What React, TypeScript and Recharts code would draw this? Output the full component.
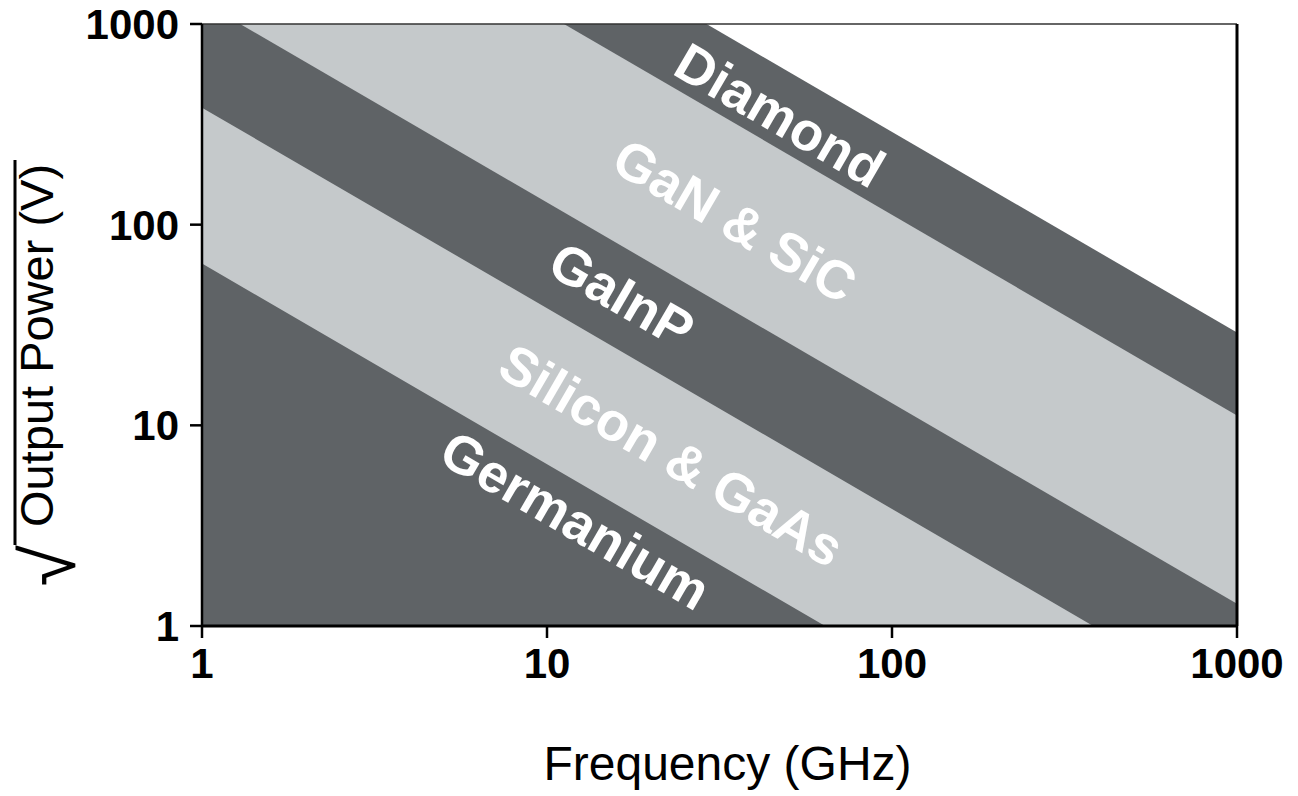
import React from 'react';
import { ComposedChart, Area, XAxis, YAxis, ReferenceLine, ReferenceDot } from 'recharts';

// Frequency (GHz) at the two ends of each band boundary
const frequencies = [1, 1000];
// Upper boundary of each band (sqrt output power, V) at those frequencies
const diamondTop = [29000, 29];
const ganSicTop = [11200, 11.2];
const gainpTop = [1290, 1.29];
const siliconGaasTop = [383, 0.383];
const germaniumTop = [64, 0.064];

const xTicks = [1, 10, 100, 1000];
const yTicks = [1, 10, 100, 1000];

const bandKeys = ['diamond', 'ganSic', 'gainp', 'siliconGaas', 'germanium'];
const bandNames = ['Diamond', 'GaN & SiC', 'GaInP', 'Silicon & GaAs', 'Germanium'];
const bandLabelFreq = [47.4, 35.1, 16.5, 23.0, 12.1];
const bandLabelPower = [352, 105, 44.6, 7.1, 3.37];

const DARK = '#5f6366';
const LIGHT = '#c5c9cb';
const bandColors = [DARK, LIGHT, DARK, LIGHT, DARK];

const FONT = '"Liberation Sans", Arial, Helvetica, sans-serif';

const data = frequencies.map((f, i) => ({
  f,
  diamond: diamondTop[i],
  ganSic: ganSicTop[i],
  gainp: gainpTop[i],
  siliconGaas: siliconGaasTop[i],
  germanium: germaniumTop[i],
}));

const makeBandLabel = (text: string) => (props: any) => {
  const vb = props.viewBox || {};
  const x = (vb.x || 0) + (vb.width || 0) / 2;
  const y = (vb.y || 0) + (vb.height || 0) / 2;
  return (
    <text
      x={x}
      y={y}
      transform={`rotate(30.2, ${x}, ${y})`}
      textAnchor="middle"
      dominantBaseline="central"
      fill="#ffffff"
      fontFamily={FONT}
      fontWeight="bold"
      fontSize={54}
    >
      {text}
    </text>
  );
};

const XLabel = (props: any) => {
  const vb = props.viewBox || { x: 0, y: 0, width: 0, height: 0 };
  const x = vb.x + vb.width / 2 + 8;
  const y = vb.y + 154;
  return (
    <text x={x} y={y} textAnchor="middle" fontFamily={FONT} fontSize={48} fill="#000">
      Frequency (GHz)
    </text>
  );
};

const YLabel = (props: any) => {
  const vb = props.viewBox || { x: 0, y: 0, width: 0, height: 0 };
  const bx = vb.x + 53;
  const by = vb.y + 503;
  const rx = vb.x + 75;
  const ry = vb.y + 521;
  const vx = vb.x + 15;
  return (
    <g>
      <text
        x={rx}
        y={ry}
        transform={`rotate(-90, ${rx}, ${ry})`}
        textAnchor="end"
        fontFamily={FONT}
        fontSize={75}
        fill="#000"
      >
        √
      </text>
      <line x1={vx} y1={vb.y + 136} x2={vx} y2={ry} stroke="#000" strokeWidth={3} />
      <text
        x={bx}
        y={by}
        transform={`rotate(-90, ${bx}, ${by})`}
        textAnchor="start"
        fontFamily={FONT}
        fontSize={47}
        fill="#000"
      >
        Output Power (V)
      </text>
    </g>
  );
};

export default function App() {
  return (
    <div style={{ position: 'absolute', left: 0, top: 0, background: '#fff', fontFamily: FONT }}>
      <ComposedChart
        width={1298}
        height={796}
        data={data}
        margin={{ top: 24, right: 61, bottom: 0, left: 0 }}
      >
        {bandKeys.map((k, i) => (
          <Area
            key={k}
            dataKey={k}
            type="linear"
            baseValue={1}
            fill={bandColors[i]}
            fillOpacity={1}
            stroke="none"
            isAnimationActive={false}
            dot={false}
            activeDot={false}
          />
        ))}
        <ReferenceLine y={1000} stroke="#333" strokeWidth={1.5} />
        <ReferenceLine x={1000} stroke="#000" strokeWidth={3} />
        {bandNames.map((name, i) => (
          <ReferenceDot
            key={name}
            x={bandLabelFreq[i]}
            y={bandLabelPower[i]}
            r={0}
            fill="none"
            stroke="none"
            label={makeBandLabel(name)}
          />
        ))}
        <XAxis
          dataKey="f"
          type="number"
          scale="log"
          domain={[1, 1000]}
          allowDataOverflow
          ticks={xTicks}
          interval={0}
          height={170}
          tickSize={12}
          tickMargin={10}
          axisLine={{ stroke: '#000', strokeWidth: 3 }}
          tickLine={{ stroke: '#000', strokeWidth: 2.5 }}
          tick={{ fontSize: 42, fontWeight: 'bold', fill: '#000', fontFamily: FONT }}
          label={{ content: XLabel }}
        />
        <YAxis
          type="number"
          scale="log"
          domain={[1, 1000]}
          allowDataOverflow
          ticks={yTicks}
          interval={0}
          width={202}
          tickSize={12}
          tickMargin={11}
          axisLine={{ stroke: '#000', strokeWidth: 2.5 }}
          tickLine={{ stroke: '#000', strokeWidth: 2.5 }}
          tick={{ fontSize: 42, fontWeight: 'bold', fill: '#000', fontFamily: FONT }}
          label={{ content: YLabel }}
        />
      </ComposedChart>
    </div>
  );
}
